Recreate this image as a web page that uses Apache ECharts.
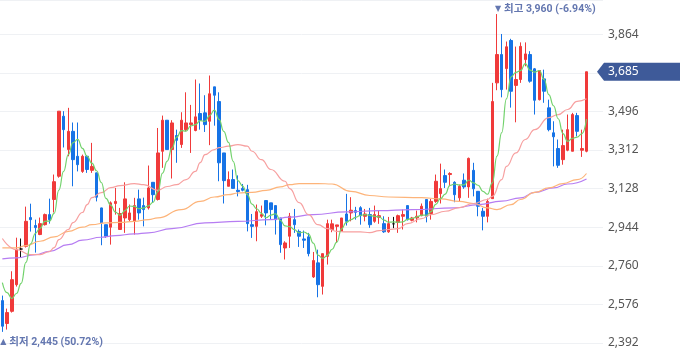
<!DOCTYPE html>
<html><head><meta charset="utf-8">
<script src="https://cdn.jsdelivr.net/npm/echarts@6/dist/echarts.min.js"></script>
<style>html,body{margin:0;padding:0;background:#fff}#c{width:680px;height:358px}</style>
</head><body><div id="c"></div>
<script>
// OHLC (125 sessions)
const opens = [2594,2485,2543,2670,2840,2853,2990,2952,2909,2956,3004,3076,3187,3473,3314,3401,3282,3210,3282,3215,3203,3036,2956,2944,3057,2933,2988,2980,2972,3079,3047,3036,3158,3076,3306,3454,3314,3381,3338,3409,3433,3405,3486,3489,3449,3613,3543,3298,3139,3171,3120,3129,3123,2956,2948,2996,3071,3060,3047,2988,2845,2901,2980,2924,2888,2898,2707,2774,2662,2805,2933,2948,2924,3007,3012,3023,3037,2996,3004,2972,2991,2961,2922,2960,2967,2996,3047,2977,2988,2999,3076,3009,3067,3104,3190,3195,3158,3084,3168,3136,3215,3115,3020,2996,3080,3632,3767,3700,3834,3620,3648,3743,3767,3699,3552,3651,3513,3394,3319,3266,3311,3306,3476,3311,3306];
const closes = [2472,2537,2694,2837,2840,2972,2980,2942,2961,3004,2980,3161,3497,3409,3401,3266,3242,3282,3219,3234,3087,2965,2901,3060,3067,3009,3079,3012,3047,3012,3028,3131,3099,3298,3454,3314,3441,3358,3454,3441,3441,3470,3454,3433,3580,3573,3251,3166,3171,3129,3114,3120,2961,2948,3018,3004,3012,3028,2980,2861,2869,2996,2956,2901,2882,2818,2785,2670,2818,2961,2960,2955,2988,2972,3025,3015,2999,3007,2956,3004,2999,2922,2961,2960,2999,3004,2980,2988,2996,3044,2996,3067,3163,3128,3158,3200,3099,3139,3136,3272,3127,3044,2996,3067,3543,3767,3600,3804,3592,3648,3806,3770,3640,3549,3691,3592,3409,3375,3239,3333,3409,3481,3401,3319,3685];
const lows = [2445,2456,2537,2661,2799,2847,2923,2823,2906,2952,2961,3014,3180,3324,3282,3139,3210,3203,3203,3203,3067,2858,2893,2861,3004,2933,2917,2972,2909,2980,2948,3028,3060,3071,3227,3314,3176,3251,3322,3401,3298,3401,3409,3398,3335,3428,3163,3057,3139,3129,3091,3115,2924,2893,2877,2988,2953,2980,2909,2822,2790,2845,2917,2850,2845,2805,2702,2610,2623,2766,2920,2869,2924,2952,2972,2980,2956,2972,2941,2965,2960,2917,2917,2939,2917,2933,2976,2972,2967,2996,2967,2980,3060,3057,3131,3139,3063,3065,3127,3084,3091,2996,2929,2967,3080,3597,3563,3600,3514,3444,3632,3711,3633,3481,3548,3537,3401,3234,3227,3242,3306,3306,3377,3279,3301];
const highs = [2618,2556,2734,2894,2890,3042,3056,2980,2990,3009,3080,3195,3497,3497,3513,3443,3443,3290,3287,3346,3204,3037,2956,3067,3131,3036,3158,3052,3084,3123,3085,3238,3158,3417,3476,3454,3454,3409,3492,3587,3527,3648,3629,3573,3667,3613,3587,3298,3210,3219,3191,3150,3146,3007,3052,3047,3071,3060,3047,2988,2877,3012,3031,2933,2928,2917,2826,2837,2818,2980,2980,2955,2988,3103,3087,3041,3044,3031,3036,3047,3023,2996,2993,2993,3004,3028,3047,2993,3023,3057,3076,3079,3195,3247,3219,3206,3163,3147,3200,3276,3251,3115,3036,3080,3632,3960,3865,3829,3842,3805,3825,3825,3783,3703,3691,3695,3552,3449,3362,3409,3481,3489,3489,3409,3685];

// moving averages
const ma5 = [2680,2632,2604,2628,2676,2776,2865,2914,2939,2972,2973,3010,3121,3210,3290,3347,3363,3320,3282,3249,3213,3157,3081,3049,3016,3000,3023,3045,3043,3032,3036,3046,3063,3114,3202,3259,3321,3373,3404,3402,3427,3433,3452,3448,3476,3502,3458,3401,3348,3258,3166,3140,3099,3054,3032,3010,2989,3002,3008,2977,2950,2947,2932,2917,2921,2911,2868,2811,2795,2810,2839,2873,2936,2967,2980,2991,3000,3004,3000,2996,2993,2978,2968,2969,2968,2969,2981,2986,2993,3002,3001,3018,3053,3080,3102,3143,3150,3145,3146,3169,3155,3144,3115,3101,3155,3283,3395,3556,3661,3682,3690,3724,3693,3683,3691,3648,3576,3523,3461,3390,3353,3367,3373,3389,3459];
const ma20 = [[0,2890],[3,2837],[6,2813],[8,2813],[10,2828],[11,2847],[12,2885],[14,2933],[15,2966],[17,3014],[18,3052],[19,3085],[21,3109],[23,3133],[25,3142],[28,3152],[30,3147],[33,3120],[35,3138],[37,3147],[39,3171],[41,3210],[42,3252],[43,3290],[45,3314],[46,3323],[48,3330],[50,3338],[52,3330],[53,3306],[55,3266],[57,3219],[60,3163],[61,3128],[63,3061],[65,3004],[67,2956],[69,2937],[71,2924],[73,2922],[76,2922],[78,2918],[80,2928],[82,2933],[84,2937],[86,2961],[89,2985],[91,3004],[94,3020],[97,3037],[100,3057],[103,3076],[104,3091],[106,3171],[107,3234],[109,3298],[111,3362],[113,3409],[116,3466],[118,3481],[120,3505],[122,3544],[124,3556]];
const ma60 = [[0,2845],[3,2845],[5,2856],[8,2877],[11,2898],[14,2924],[17,2944],[19,2956],[22,2965],[25,2967],[28,2972],[31,2980],[33,2988],[38,3028],[42,3067],[45,3088],[48,3099],[50,3107],[53,3110],[56,3120],[59,3136],[61,3147],[63,3152],[67,3152],[70,3150],[74,3115],[78,3095],[82,3088],[89,3085],[93,3079],[97,3067],[100,3057],[103,3036],[105,3028],[108,3052],[110,3076],[113,3110],[116,3131],[119,3152],[122,3171],[124,3200]];
const ma120 = [[0,2793],[3,2798],[7,2813],[10,2829],[14,2861],[17,2882],[21,2896],[24,2904],[28,2912],[31,2917],[36,2937],[43,2965],[50,2972],[57,2980],[61,2992],[66,3004],[73,3017],[80,3023],[87,3028],[96,3036],[101,3052],[106,3068],[110,3084],[113,3110],[117,3131],[120,3150],[124,3174]];

const yTicks = {min: 2392, max: 4027, interval: 184};
const emptySlots = ['', ' ', '  '];
const categories = opens.map((_, i) => 'D' + (i + 1)).concat(emptySlots);
const candles = opens.map((o, i) => [o, closes[i], lows[i], highs[i]]);

const RED = '#f03a3a', BLUE = '#1673e6';
const chart = echarts.init(document.getElementById('c'));
const fmt = v => v.toLocaleString('en-US');
function maLine(name, data, color) {
  return {type: 'line', name, data, symbol: 'none', smooth: true, smoothMonotone: 'x',
    lineStyle: {color, width: 1.2}, silent: true, z: 3};
}
chart.setOption({
  animation: false,
  grid: {left: 0, right: 77, top: 0, bottom: 15},
  xAxis: {type: 'category', data: categories, boundaryGap: true,
    axisLine: {show: false}, axisTick: {show: false}, axisLabel: {show: false}, splitLine: {show: false}},
  yAxis: {type: 'value', position: 'right', min: yTicks.min, max: yTicks.max, interval: yTicks.interval,
    axisLine: {show: false}, axisTick: {show: false},
    splitLine: {lineStyle: {color: '#eff1f4', width: 1}},
    axisLabel: {margin: 5, color: '#555', fontSize: 12, fontFamily: 'Noto Sans, sans-serif',
      showMaxLabel: false, formatter: v => (v - yTicks.min) % yTicks.interval === 0 ? fmt(v) : ''}},
  series: [
    {type: 'candlestick', data: candles, barWidth: 3,
      itemStyle: {color: RED, color0: BLUE, borderColor: RED, borderColor0: BLUE, borderColorDoji: '#111', borderWidth: 1}, z: 2},
    maLine('MA120', ma120, '#b67df2'),
    maLine('MA60', ma60, '#fdb47a'),
    maLine('MA20', ma20, '#f7a0a0'),
    maLine('MA5', ma5, '#72d26c')
  ]
});

// annotations: max / min / last price
let maxI = 0, minI = 0;
highs.forEach((h, i) => { if (h > highs[maxI]) maxI = i; });
lows.forEach((l, i) => { if (l < lows[minI]) minI = i; });
const last = closes[closes.length - 1];
const pct = v => ((last - v) / v * 100).toFixed(2) + '%';
const pMax = chart.convertToPixel({seriesIndex: 0}, [maxI, highs[maxI]]);
const pMin = chart.convertToPixel({seriesIndex: 0}, [minI, lows[minI]]);
const yLast = chart.convertToPixel({yAxisIndex: 0}, last);
const markFont = 'bold 10.5px Roboto, "Noto Sans CJK KR", sans-serif';
const arrowFont = '8px "DejaVu Sans", sans-serif';
const MARKC = '#6477b0';
const TAGC = '#3e5a99';
function marker(x, y, arrow, label) {
  return {type: 'group', x, y, z: 10, children: [
    {type: 'text', x: 0, y: 0, style: {text: arrow, fill: MARKC, font: arrowFont, textVerticalAlign: 'middle'}},
    {type: 'text', x: 9, y: 0, style: {text: label, fill: MARKC, font: markFont, textVerticalAlign: 'middle'}}
  ]};
}
chart.setOption({
  graphic: [
    marker(pMax[0] - 2, pMax[1] - 5, '▼', '최고 ' + fmt(highs[maxI]) + ' (' + pct(highs[maxI]) + ')'),
    marker(Math.max(0, pMin[0] - 2), pMin[1] + 10.5, '▲', '최저 ' + fmt(lows[minI]) + ' (' + pct(lows[minI]) + ')'),
    {type: 'polygon', z: 10, shape: {points: [[597, yLast], [604, yLast - 9], [680, yLast - 9], [680, yLast + 9], [604, yLast + 9]]},
      style: {fill: TAGC}},
    {type: 'text', x: 608, y: yLast, z: 11,
      style: {text: fmt(last), fill: '#fff', font: '12px "Noto Sans", sans-serif', textVerticalAlign: 'middle'}}
  ]
});
</script></body></html>
